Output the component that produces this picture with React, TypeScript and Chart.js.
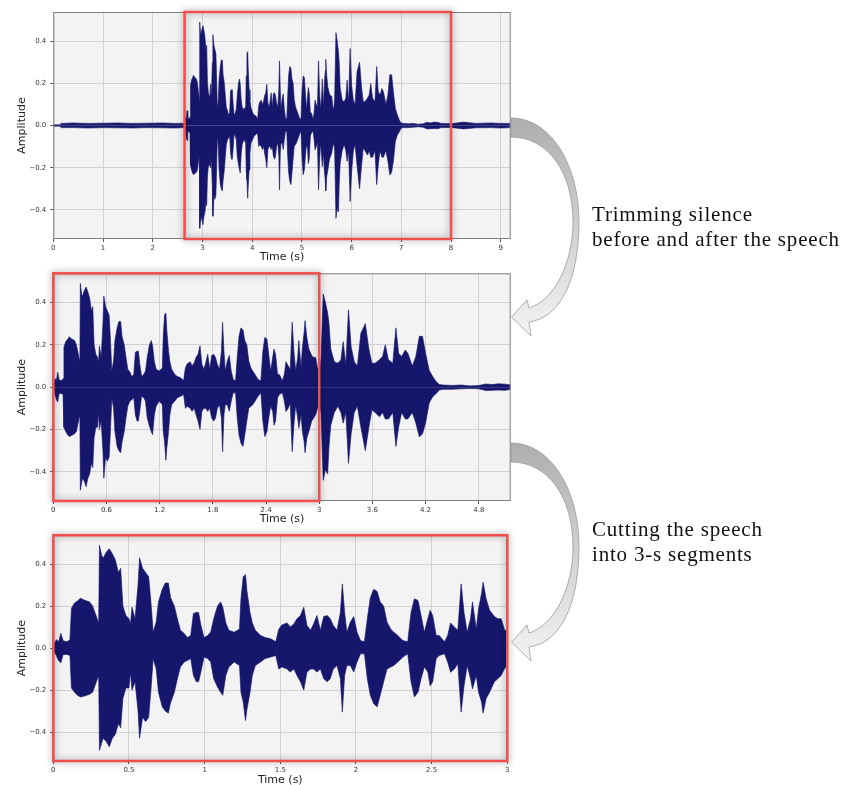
import React, { useEffect, useRef } from 'react';
import { Chart, registerables } from 'chart.js';

Chart.register(...registerables);

// Envelope of the trimmed speech signal (seconds, upper amplitude, lower amplitude)
const speechTime = [
  0.00, 0.02, 0.035, 0.05, 0.065, 0.09, 0.11, 0.12, 0.14, 0.16,
  0.18, 0.20, 0.22, 0.24, 0.26, 0.28, 0.30, 0.305, 0.32, 0.33,
  0.35, 0.37, 0.39, 0.41, 0.43, 0.445, 0.46, 0.48, 0.50, 0.51,
  0.52, 0.54, 0.56, 0.57, 0.59, 0.61, 0.63, 0.645, 0.66, 0.68,
  0.695, 0.72, 0.74, 0.76, 0.775, 0.80, 0.82, 0.84, 0.865, 0.886,
  0.908, 0.926, 0.945, 0.96, 0.975, 0.996, 1.02, 1.04, 1.06, 1.085,
  1.105, 1.12, 1.14, 1.16, 1.195, 1.23, 1.24, 1.255, 1.27, 1.28,
  1.30, 1.315, 1.335, 1.37, 1.40, 1.436, 1.47, 1.49, 1.51, 1.545,
  1.565, 1.59, 1.61, 1.633, 1.655, 1.676, 1.70, 1.72, 1.742, 1.765,
  1.787, 1.81, 1.83, 1.85, 1.875, 1.897, 1.91, 1.925, 1.94, 1.963,
  1.985, 2.007, 2.03, 2.056, 2.075, 2.095, 2.117, 2.14, 2.16, 2.183,
  2.205, 2.23, 2.25, 2.276, 2.31, 2.342, 2.364, 2.386, 2.41, 2.43,
  2.452, 2.475, 2.49, 2.507, 2.53, 2.55, 2.585, 2.606, 2.625, 2.65,
  2.673, 2.695, 2.714, 2.735, 2.757, 2.77, 2.795, 2.81, 2.83, 2.84,
  2.86, 2.883, 2.915, 2.937, 2.96, 2.98, 3.00, 3.02, 3.045, 3.07,
  3.095, 3.11, 3.13, 3.17, 3.21, 3.245, 3.27, 3.30, 3.33, 3.36,
  3.395, 3.43, 3.47, 3.52, 3.56, 3.594, 3.63, 3.68, 3.715, 3.745,
  3.78, 3.83, 3.865, 3.895, 3.93, 3.97, 4.00, 4.05, 4.09, 4.13,
  4.165, 4.20, 4.24, 4.28, 4.32, 4.355, 4.40, 4.50, 4.60, 4.70,
  4.80, 4.88, 4.95, 5.02, 5.10, 5.16,
];
const speechUpper = [
  0.01, 0.04, 0.03, 0.07, 0.035, 0.03, 0.04, 0.19, 0.215, 0.225,
  0.238, 0.23, 0.225, 0.22, 0.2, 0.16, 0.12, 0.49, 0.44, 0.43,
  0.457, 0.473, 0.45, 0.42, 0.36, 0.38, 0.2, 0.155, 0.14, 0.115,
  0.195, 0.14, 0.3, 0.43, 0.38, 0.36, 0.34, 0.22, 0.076, 0.124,
  0.22, 0.28, 0.31, 0.31, 0.24, 0.2, 0.14, 0.085, 0.07, 0.05,
  0.06, 0.165, 0.17, 0.17, 0.11, 0.05, 0.06, 0.076, 0.14, 0.2,
  0.22, 0.195, 0.12, 0.085, 0.076, 0.09, 0.235, 0.34, 0.35, 0.27,
  0.17, 0.12, 0.085, 0.06, 0.05, 0.045, 0.03, 0.09, 0.11, 0.12,
  0.1, 0.115, 0.14, 0.155, 0.195, 0.108, 0.085, 0.115, 0.155, 0.085,
  0.15, 0.155, 0.14, 0.108, 0.085, 0.17, 0.306, 0.17, 0.076, 0.124,
  0.15, 0.076, 0.036, 0.03, 0.14, 0.24, 0.28, 0.27, 0.22, 0.2,
  0.124, 0.09, 0.076, 0.06, 0.036, 0.03, 0.17, 0.235, 0.227, 0.155,
  0.076, 0.14, 0.18, 0.155, 0.06, 0.06, 0.03, 0.06, 0.12, 0.1,
  0.085, 0.306, 0.17, 0.076, 0.14, 0.22, 0.09, 0.187, 0.26, 0.314,
  0.235, 0.18, 0.15, 0.14, 0.14, 0.09, 0.076, 0.13, 0.44, 0.4,
  0.35, 0.3, 0.18, 0.12, 0.113, 0.13, 0.215, 0.105, 0.365, 0.19,
  0.12, 0.1, 0.255, 0.3, 0.18, 0.113, 0.113, 0.13, 0.145, 0.2,
  0.13, 0.113, 0.28, 0.16, 0.145, 0.175, 0.16, 0.1, 0.145, 0.24,
  0.24, 0.16, 0.08, 0.05, 0.025, 0.012, 0.01, 0.008, 0.01, 0.006,
  0.008, 0.015, 0.012, 0.016, 0.014, 0.01,
];
const speechLower = [
  -0.01, -0.035, -0.06, -0.07, -0.03, -0.03, -0.035, -0.19, -0.21, -0.225,
  -0.233, -0.23, -0.225, -0.22, -0.21, -0.17, -0.13, -0.487, -0.45, -0.43,
  -0.445, -0.47, -0.43, -0.41, -0.36, -0.38, -0.24, -0.19, -0.19, -0.115,
  -0.2, -0.16, -0.3, -0.43, -0.33, -0.35, -0.33, -0.2, -0.05, -0.1,
  -0.21, -0.28, -0.3, -0.31, -0.26, -0.21, -0.146, -0.09, -0.066, -0.059,
  -0.05, -0.13, -0.16, -0.16, -0.115, -0.043, -0.05, -0.066, -0.146, -0.185,
  -0.21, -0.225, -0.13, -0.09, -0.066, -0.083, -0.21, -0.257, -0.345, -0.29,
  -0.21, -0.13, -0.083, -0.066, -0.05, -0.043, -0.035, -0.1, -0.09, -0.1,
  -0.114, -0.1, -0.13, -0.16, -0.2, -0.114, -0.1, -0.1, -0.114, -0.1,
  -0.146, -0.16, -0.146, -0.1, -0.083, -0.146, -0.305, -0.13, -0.083, -0.083,
  -0.114, -0.066, -0.027, -0.027, -0.146, -0.225, -0.265, -0.28, -0.225, -0.16,
  -0.1, -0.09, -0.083, -0.066, -0.043, -0.027, -0.16, -0.233, -0.21, -0.146,
  -0.09, -0.114, -0.18, -0.16, -0.05, -0.035, -0.027, -0.066, -0.115, -0.1,
  -0.075, -0.305, -0.18, -0.083, -0.146, -0.194, -0.13, -0.21, -0.257, -0.31,
  -0.24, -0.21, -0.16, -0.146, -0.13, -0.1, -0.083, -0.12, -0.44, -0.39,
  -0.41, -0.28, -0.18, -0.12, -0.09, -0.12, -0.17, -0.12, -0.36, -0.22,
  -0.12, -0.09, -0.19, -0.3, -0.19, -0.107, -0.12, -0.14, -0.12, -0.15,
  -0.15, -0.12, -0.28, -0.19, -0.12, -0.15, -0.15, -0.12, -0.17, -0.235,
  -0.22, -0.17, -0.075, -0.045, -0.03, -0.013, -0.01, -0.01, -0.008, -0.006,
  -0.008, -0.016, -0.015, -0.014, -0.015, -0.01,
];

// Silence around the speech in the original recording (top panel)
const silenceBeforeTime = [0, 0.13, 0.16, 0.4, 0.7, 1.0, 1.3, 1.6, 1.9, 2.2, 2.45, 2.62];
const silenceBeforeUpper = [0.003, 0.003, 0.01, 0.012, 0.01, 0.011, 0.012, 0.01, 0.011, 0.012, 0.01, 0.01];
const silenceBeforeLower = [-0.003, -0.003, -0.01, -0.01, -0.012, -0.01, -0.011, -0.012, -0.01, -0.011, -0.012, -0.01];
const silenceAfterTime = [7.82, 8.0, 8.25, 8.5, 8.8, 9.0, 9.2];
const silenceAfterUpper = [0.01, 0.008, 0.016, 0.01, 0.012, 0.01, 0.01];
const silenceAfterLower = [-0.01, -0.009, -0.016, -0.011, -0.01, -0.012, -0.01];

const speechOffset = 2.64; // start of speech in the original recording (s)
const trimEnd = 8.0;       // end of trimmed window in the original recording (s)
const segmentLength = 3;   // segment length (s)

const originalDuration = 9.2;
const trimmedDuration = 5.16;

const xTicks1 = [0, 1, 2, 3, 4, 5, 6, 7, 8, 9];
const xLabels1 = ['0', '1', '2', '3', '4', '5', '6', '7', '8', '9'];
const xTicks2 = [0, 0.6, 1.2, 1.8, 2.4, 3, 3.6, 4.2, 4.8];
const xLabels2 = ['0', '0.6', '1.2', '1.8', '2.4', '3', '3.6', '4.2', '4.8'];
const xTicks3 = [0, 0.5, 1, 1.5, 2, 2.5, 3];
const xLabels3 = ['0', '0.5', '1', '1.5', '2', '2.5', '3'];
const yTicks = [-0.4, -0.2, 0, 0.2, 0.4];
const yLabels = ['\u22120.4', '\u22120.2', '0.0', '0.2', '0.4'];
const yLimit = 0.538;

const NAVY = '#16166c';

type PanelProps = {
  top: number;
  height: number;
  padTop: number;
  padRight: number;
  axisH: number;
  titlePad: number;
  xMax: number;
  xTicks: number[];
  xLabels: string[];
  time: number[];
  upper: number[];
  lower: number[];
  redStart: number;
  redEnd: number;
};

function WavePanel(p: PanelProps) {
  const ref = useRef<HTMLCanvasElement>(null);
  useEffect(() => {
    if (!ref.current) return;
    const up = p.time.map((t, i) => ({ x: t, y: p.upper[i] }));
    const lo = p.time.map((t, i) => ({ x: t, y: p.lower[i] }));
    const framePlugin = {
      id: 'frameAndBox',
      beforeDraw(chart: any) {
        const { ctx, chartArea: a } = chart;
        ctx.save();
        ctx.fillStyle = '#f3f3f3';
        ctx.fillRect(a.left, a.top, a.right - a.left, a.bottom - a.top);
        ctx.restore();
      },
      afterDraw(chart: any) {
        const { ctx, chartArea: a, scales } = chart;
        ctx.save();
        ctx.strokeStyle = '#7f7f7f';
        ctx.lineWidth = 1;
        ctx.strokeRect(a.left + 0.5, a.top + 0.5, a.right - a.left - 1, a.bottom - a.top - 1);
        const x0 = scales.x.getPixelForValue(p.redStart);
        const x1 = scales.x.getPixelForValue(p.redEnd);
        ctx.shadowColor = 'rgba(0,0,0,0.45)';
        ctx.shadowBlur = 7;
        ctx.strokeStyle = '#f24e4e';
        ctx.lineWidth = 2.5;
        ctx.strokeRect(x0, a.top, x1 - x0, a.bottom - a.top);
        ctx.restore();
      },
    };
    const ds = (data: any) => ({
      data,
      fill: 'origin',
      borderColor: 'rgba(22,22,108,0.8)',
      backgroundColor: NAVY,
      borderWidth: 0.8,
      pointRadius: 0,
      tension: 0,
    });
    const chart = new Chart(ref.current, {
      type: 'line',
      data: { datasets: [ds(up), ds(lo)] as any },
      options: {
        animation: false,
        responsive: false,
        events: [],
        layout: { padding: { top: p.padTop, right: p.padRight, left: 0, bottom: 0 } },
        plugins: { legend: { display: false }, tooltip: { enabled: false } },
        scales: {
          x: {
            type: 'linear',
            min: 0,
            max: p.xMax,
            afterBuildTicks: (s: any) => { s.ticks = p.xTicks.map((v) => ({ value: v })); },
            afterFit: (s: any) => { s.height = p.axisH; },
            ticks: {
              autoSkip: false,
              maxRotation: 0,
              padding: 2,
              font: { family: 'DejaVu Sans', size: 7 },
              color: '#333',
              callback: (_v: any, i: number) => p.xLabels[i],
            },
            grid: { color: '#d2d2d2', tickColor: '#555', tickLength: 3, lineWidth: 1 },
            border: { display: false },
            title: {
              display: true,
              text: 'Time (s)',
              font: { family: 'DejaVu Sans', size: 11 },
              color: '#222',
              padding: { top: 0, bottom: p.titlePad },
            },
          },
          y: {
            type: 'linear',
            min: -yLimit,
            max: yLimit,
            afterBuildTicks: (s: any) => { s.ticks = yTicks.map((v) => ({ value: v })); },
            afterFit: (s: any) => { s.width = 53.3; },
            ticks: {
              padding: 4,
              font: { family: 'DejaVu Sans', size: 7 },
              color: '#333',
              callback: (_v: any, i: number) => yLabels[i],
            },
            grid: { color: '#d2d2d2', tickColor: '#555', tickLength: 3, lineWidth: 1 },
            border: { display: false },
            title: {
              display: true,
              text: 'Amplitude',
              font: { family: 'DejaVu Sans', size: 11 },
              color: '#222',
              padding: { top: 16, bottom: 0 },
            },
          },
        },
      } as any,
      plugins: [framePlugin],
    });
    return () => chart.destroy();
  }, []);
  return (
    <canvas
      ref={ref}
      width={520}
      height={p.height}
      style={{ position: 'absolute', left: 0, top: p.top, width: 520, height: p.height }}
    />
  );
}

// Top panel: whole recording = silence + shifted speech + silence
const originalTime = [
  ...silenceBeforeTime,
  ...speechTime.map((t) => t + speechOffset),
  ...silenceAfterTime,
];
const originalUpper = [...silenceBeforeUpper, ...speechUpper, ...silenceAfterUpper];
const originalLower = [...silenceBeforeLower, ...speechLower, ...silenceAfterLower];

// Bottom panel: first 3-s segment
const segIdx = speechTime.map((t, i) => (t <= segmentLength + 1e-9 ? i : -1)).filter((i) => i >= 0);
const segTime = segIdx.map((i) => speechTime[i]);
const segUpper = segIdx.map((i) => speechUpper[i]);
const segLower = segIdx.map((i) => speechLower[i]);

const ARROW =
  'M 511 118 C 551 118, 579 165, 579 222 C 579 280, 560 318, 529 322 ' +
  'L 531 336 L 511.5 317 L 527 300 L 529 308 ' +
  'C 555 300, 573 262, 573 222 C 573 172, 548 137, 511 137 Z';

const textStyle: React.CSSProperties = {
  position: 'absolute',
  left: 592,
  font: '21px "Liberation Serif", "Times New Roman", serif',
  lineHeight: '25px',
  letterSpacing: '0.8px',
  whiteSpace: 'nowrap',
  color: '#111',
};

export default function App() {
  return (
    <div
      style={{
        position: 'absolute',
        left: 0,
        top: 0,
        width: 843,
        height: 785,
        overflow: 'hidden',
        background: '#fff',
      }}
    >
      <WavePanel
        top={0}
        height={266}
        padTop={12}
        padRight={9.3}
        axisH={27}
        titlePad={2}
        xMax={originalDuration}
        xTicks={xTicks1}
        xLabels={xLabels1}
        time={originalTime}
        upper={originalUpper}
        lower={originalLower}
        redStart={speechOffset}
        redEnd={trimEnd}
      />
      <WavePanel
        top={265}
        height={263}
        padTop={8.3}
        padRight={9.3}
        axisH={27}
        titlePad={2}
        xMax={trimmedDuration}
        xTicks={xTicks2}
        xLabels={xLabels2}
        time={speechTime}
        upper={speechUpper}
        lower={speechLower}
        redStart={0}
        redEnd={segmentLength}
      />
      <WavePanel
        top={527}
        height={262}
        padTop={8}
        padRight={12.7}
        axisH={28}
        titlePad={2}
        xMax={segmentLength}
        xTicks={xTicks3}
        xLabels={xLabels3}
        time={segTime}
        upper={segUpper}
        lower={segLower}
        redStart={0}
        redEnd={segmentLength}
      />
      <svg
        width={843}
        height={785}
        style={{ position: 'absolute', left: 0, top: 0, pointerEvents: 'none' }}
      >
        <defs>
          <linearGradient id="arrowGrad" x1="0" y1="0" x2="0" y2="1">
            <stop offset="0" stopColor="#aeaeae" />
            <stop offset="0.5" stopColor="#d0d0d0" />
            <stop offset="1" stopColor="#f4f4f4" />
          </linearGradient>
        </defs>
        <path d={ARROW} fill="url(#arrowGrad)" stroke="#9b9b9b" strokeWidth={0.8} />
        <g transform="translate(0,325)">
          <path d={ARROW} fill="url(#arrowGrad)" stroke="#9b9b9b" strokeWidth={0.8} />
        </g>
      </svg>
      <div style={{ ...textStyle, top: 202 }}>
        Trimming silence
        <br />
        before and after the speech
      </div>
      <div style={{ ...textStyle, top: 517 }}>
        Cutting the speech
        <br />
        into 3-s segments
      </div>
    </div>
  );
}
